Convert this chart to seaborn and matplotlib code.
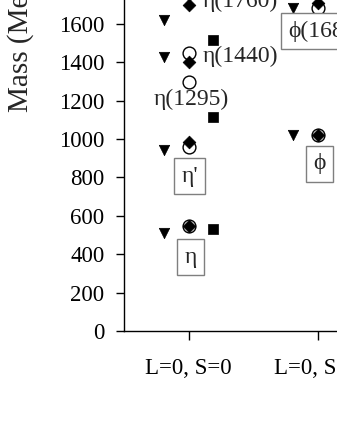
import matplotlib
matplotlib.use('Agg')
import matplotlib.pyplot as plt
import seaborn as sns
import pandas as pd

categories = ['L=0, S=0', 'L=0, S=1']

# masses in MeV
tri_cat = [0, 0, 0, 0, 1, 1]
tri_mass = [510, 945, 1427, 1620, 1021, 1682]

dia_cat = [0, 0, 0, 0, 1, 1]
dia_mass = [547, 982, 1401, 1700, 1020, 1708]

exp_cat = [0, 0, 0, 0, 0, 1, 1]
exp_mass = [548, 958, 1297, 1448, 1760, 1019, 1680]

sq_cat = [0, 0, 0]
sq_mass = [530, 1115, 1516]

sns.set_style('ticks')
plt.rcParams['font.family'] = ['Liberation Serif', 'DejaVu Serif']

fig = plt.figure(figsize=(3.37, 4.36), dpi=100)
ax = fig.add_axes([0.368, 0.2408, 0.7656, 0.881])

off = 0.19
df_tri = pd.DataFrame({'x': [c - off for c in tri_cat], 'mass': tri_mass})
df_dia = pd.DataFrame({'x': dia_cat, 'mass': dia_mass})
df_exp = pd.DataFrame({'x': exp_cat, 'mass': exp_mass})
df_sq = pd.DataFrame({'x': [c + off for c in sq_cat], 'mass': sq_mass})

sns.scatterplot(data=df_tri, x='x', y='mass', marker='v', s=56, color='black',
                edgecolor='black', linewidth=0.5, ax=ax, zorder=3)
sns.scatterplot(data=df_exp, x='x', y='mass', marker='o', s=85, facecolor='white',
                edgecolor='black', linewidth=1.0, ax=ax, zorder=3)
sns.scatterplot(data=df_dia, x='x', y='mass', marker='D', s=42, color='black',
                edgecolor='black', linewidth=0.5, ax=ax, zorder=4)
sns.scatterplot(data=df_sq, x='x', y='mass', marker='s', s=54, color='black',
                edgecolor='black', linewidth=0.5, ax=ax, zorder=3)

ax.set_xlim(-0.5, 1.5)
ax.set_ylim(0, 2000)
ax.set_xticks([0, 1])
ax.set_xticklabels(categories)
ax.set_yticks(range(0, 2001, 200))
ax.tick_params(axis='x', labelsize=16.5, length=6.5, width=1, pad=13, direction='out', colors='black')
ax.tick_params(axis='y', labelsize=16.5, length=6, width=1, pad=8, direction='out', colors='black')
ax.set_xlabel('')
ax.set_ylabel('Mass (MeV)', fontsize=21)
ax.yaxis.set_label_coords(-0.35, 0.763)
for side in ['left', 'bottom']:
    ax.spines[side].set_color('black')
    ax.spines[side].set_linewidth(1)
sns.despine(ax=ax)

fs = 17
ax.text(0.11, 1715, 'η(1760)', fontsize=fs, ha='left', va='center')
ax.text(0.11, 1430, 'η(1440)', fontsize=fs, ha='left', va='center')
ax.text(0.02, 1205, 'η(1295)', fontsize=fs, ha='center', va='center')

box = dict(boxstyle='square,pad=0.3', facecolor='white', edgecolor='#7f7f7f', linewidth=1)
ax.text(0.01, 807, "η'", fontsize=fs, ha='center', va='center', bbox=box)
ax.text(0.015, 385, 'η', fontsize=fs, ha='center', va='center', bbox=box)
ax.text(1.016, 870, 'ϕ', fontsize=fs, ha='center', va='center', bbox=box)
ax.text(0.77, 1562, 'ϕ(1680)', fontsize=fs, ha='left', va='center', bbox=box)

fig.savefig('out.png', dpi=100)
